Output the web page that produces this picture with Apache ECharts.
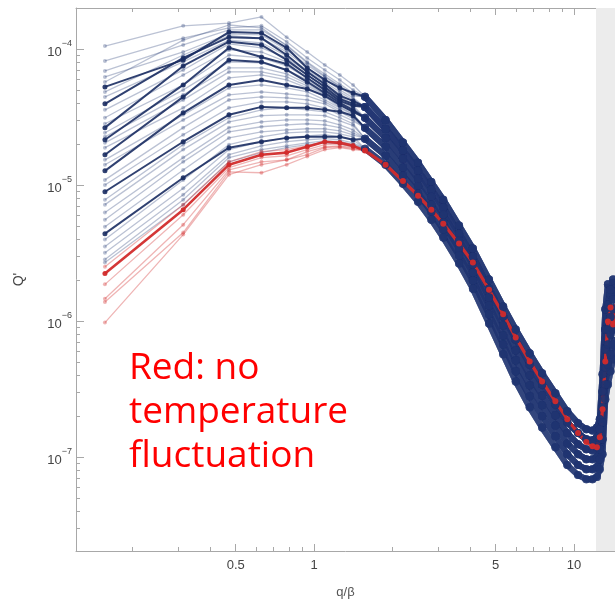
<!DOCTYPE html>
<html><head><meta charset="utf-8">
<script src="https://cdn.jsdelivr.net/npm/echarts@6/dist/echarts.min.js"></script>
<style>html,body{margin:0;padding:0;background:#fff}#c{width:615px;height:604px}</style>
</head><body><div id="c"></div>
<script>
// ---- axes ----
const xMin = 0.1215, xMax = 14.38;
const yMin = 2.04e-8, yMax = 2.0e-4;
const shadeFrom = 12.15;
const xLabelTicks = [0.5, 1, 5, 10];
const xMinorTicks = [0.2, 0.3, 0.4, 0.6, 0.7, 0.8, 0.9, 2, 3, 4, 6, 7, 8, 9];
const yLabelTicks = [1e-7, 1e-6, 1e-5, 1e-4];
const yMinorTicks = [3e-8, 4e-8, 5e-8, 6e-8, 7e-8, 8e-8, 9e-8,
  2e-7, 3e-7, 4e-7, 5e-7, 6e-7, 7e-7, 8e-7, 9e-7,
  2e-6, 3e-6, 4e-6, 5e-6, 6e-6, 7e-6, 8e-6, 9e-6,
  2e-5, 3e-5, 4e-5, 5e-5, 6e-5, 7e-5, 8e-5, 9e-5];

// ---- q/beta sample positions ----
const qEarly = [0.157, 0.314, 0.471, 0.628, 0.785, 0.942, 1.100, 1.257, 1.414];
const qTail = [1.571, 1.885, 2.199, 2.513, 2.827, 3.142, 3.613, 4.084, 4.712, 5.341, 5.969, 6.754, 7.540,
  8.482, 9.425, 10.367, 11.153, 11.781, 12.252, 12.566, 12.881, 13.195, 13.509, 13.823, 14.137, 14.451];

// ---- tail bundles (q >= 1.57) ----
const tailP0 = [4.45e-5, 3.01e-5, 2.05e-5, 1.46e-5, 1.05e-5, 7.80e-6, 5.03e-6, 3.41e-6, 2.02e-6, 1.28e-6, 8.68e-7, 5.79e-7, 4.13e-7, 2.94e-7, 2.17e-7, 1.77e-7, 1.60e-7, 1.57e-7, 1.65e-7, 1.90e-7, 4.06e-7, 1.22e-6, 1.86e-6, 1.57e-6, 2.02e-6, 1.70e-6];
const tailP1 = [3.75e-5, 2.58e-5, 1.79e-5, 1.27e-5, 9.23e-6, 6.82e-6, 4.39e-6, 2.98e-6, 1.73e-6, 1.08e-6, 7.33e-7, 4.80e-7, 3.42e-7, 2.44e-7, 1.80e-7, 1.50e-7, 1.35e-7, 1.33e-7, 1.40e-7, 1.60e-7, 3.04e-7, 8.68e-7, 1.32e-6, 1.70e-6, 1.44e-6, 1.86e-6];
const tailP2 = [3.12e-5, 2.22e-5, 1.56e-5, 1.11e-5, 8.21e-6, 6.05e-6, 3.90e-6, 2.60e-6, 1.49e-6, 9.28e-7, 6.09e-7, 3.99e-7, 2.84e-7, 2.03e-7, 1.50e-7, 1.24e-7, 1.14e-7, 1.12e-7, 1.18e-7, 1.35e-7, 2.32e-7, 6.19e-7, 8.68e-7, 1.07e-6, 1.22e-6, 1.32e-6];
const tailP3 = [2.63e-5, 1.91e-5, 1.34e-5, 9.85e-6, 7.17e-6, 5.29e-6, 3.41e-6, 2.27e-6, 1.30e-6, 7.84e-7, 5.14e-7, 3.37e-7, 2.40e-7, 1.71e-7, 1.26e-7, 1.05e-7, 9.65e-8, 9.65e-8, 9.98e-8, 1.14e-7, 1.80e-7, 4.56e-7, 6.73e-7, 7.97e-7, 8.68e-7, 1.03e-6];
const tailP4 = [2.19e-5, 1.64e-5, 1.17e-5, 8.63e-6, 6.37e-6, 4.70e-6, 3.03e-6, 1.99e-6, 1.12e-6, 6.73e-7, 4.27e-7, 2.80e-7, 2.00e-7, 1.42e-7, 1.05e-7, 8.73e-8, 8.15e-8, 8.15e-8, 8.44e-8, 9.65e-8, 1.35e-7, 3.42e-7, 4.80e-7, 5.69e-7, 6.73e-7, 7.58e-7];
const tailP5 = [1.85e-5, 1.41e-5, 1.02e-5, 7.54e-6, 5.56e-6, 4.11e-6, 2.65e-6, 1.73e-6, 9.61e-7, 5.69e-7, 3.60e-7, 2.32e-7, 1.65e-7, 1.18e-7, 8.73e-8, 7.37e-8, 6.88e-8, 6.88e-8, 7.13e-8, 8.15e-8, 1.05e-7, 2.66e-7, 3.42e-7, 4.27e-7, 5.23e-7, 6.19e-7];
const tailRed = [1.79e-5, 1.41e-5, 1.07e-5, 8.35e-6, 6.59e-6, 5.20e-6, 3.71e-6, 2.69e-6, 1.70e-6, 1.12e-6, 7.58e-7, 5.05e-7, 3.60e-7, 2.57e-7, 1.90e-7, 1.50e-7, 1.29e-7, 1.20e-7, 1.18e-7, 1.40e-7, 2.25e-7, 5.05e-7, 9.93e-7, 1.26e-6, 9.44e-7, 1.32e-6];
const blueTails = [tailP0, tailP1, tailP2, tailP3, tailP4, tailP5];

// ---- early parts (q = 0.157 ... 1.414) ----
const faintBlue = [
  [1.05e-4, 1.48e-4, 1.55e-4, 1.72e-4, 1.22e-4, 9.50e-5, 7.63e-5, 6.44e-5, 5.44e-5],
  [8.17e-5, 1.20e-4, 1.43e-4, 1.48e-4, 1.13e-4, 8.59e-5, 7.01e-5, 5.92e-5, 5.00e-5],
  [6.89e-5, 1.07e-4, 1.38e-4, 1.38e-4, 1.07e-4, 8.03e-5, 6.55e-5, 5.53e-5, 4.75e-5],
  [6.23e-5, 9.50e-5, 1.29e-4, 1.27e-4, 9.83e-5, 7.63e-5, 6.23e-5, 5.26e-5, 4.52e-5],
  [5.72e-5, 1.16e-4, 1.50e-4, 1.43e-4, 1.05e-4, 7.90e-5, 6.33e-5, 5.35e-5, 4.60e-5],
  [4.83e-5, 9.03e-5, 1.25e-4, 1.20e-4, 9.50e-5, 7.25e-5, 6.02e-5, 5.00e-5, 4.37e-5],
  [4.44e-5, 8.03e-5, 1.16e-4, 1.11e-4, 8.88e-5, 7.01e-5, 5.72e-5, 4.83e-5, 4.22e-5],
  [3.57e-5, 7.01e-5, 1.09e-4, 1.02e-4, 8.59e-5, 6.78e-5, 5.53e-5, 4.67e-5, 4.08e-5],
  [3.12e-5, 6.44e-5, 9.83e-5, 9.50e-5, 8.03e-5, 6.44e-5, 5.35e-5, 4.44e-5, 3.95e-5],
  [2.82e-5, 5.44e-5, 9.03e-5, 8.59e-5, 7.50e-5, 6.12e-5, 5.08e-5, 4.30e-5, 3.82e-5],
  [2.42e-5, 5.00e-5, 8.03e-5, 7.90e-5, 7.01e-5, 5.92e-5, 4.92e-5, 4.15e-5, 3.69e-5],
  [2.26e-5, 4.60e-5, 7.25e-5, 7.25e-5, 6.55e-5, 5.53e-5, 4.67e-5, 3.95e-5, 3.51e-5],
  [2.04e-5, 4.22e-5, 6.78e-5, 6.78e-5, 6.23e-5, 5.35e-5, 4.60e-5, 3.88e-5, 3.45e-5],
  [1.88e-5, 3.69e-5, 6.12e-5, 6.44e-5, 5.92e-5, 5.17e-5, 4.44e-5, 3.75e-5, 3.34e-5],
  [1.53e-5, 3.28e-5, 5.17e-5, 5.44e-5, 5.17e-5, 4.83e-5, 4.22e-5, 3.69e-5, 3.28e-5],
  [1.41e-5, 3.01e-5, 4.60e-5, 4.83e-5, 4.67e-5, 4.52e-5, 4.08e-5, 3.57e-5, 3.17e-5],
  [1.09e-5, 2.64e-5, 4.22e-5, 4.44e-5, 4.37e-5, 4.22e-5, 3.95e-5, 3.45e-5, 3.07e-5],
  [1.00e-5, 2.34e-5, 3.69e-5, 4.08e-5, 4.08e-5, 3.95e-5, 3.69e-5, 3.28e-5, 2.96e-5],
  [7.80e-6, 1.98e-5, 3.12e-5, 3.57e-5, 3.69e-5, 3.57e-5, 3.45e-5, 3.12e-5, 2.82e-5],
  [7.17e-6, 1.82e-5, 2.91e-5, 3.23e-5, 3.28e-5, 3.28e-5, 3.23e-5, 2.96e-5, 2.73e-5],
  [6.28e-6, 1.59e-5, 2.64e-5, 2.91e-5, 3.01e-5, 3.01e-5, 2.96e-5, 2.77e-5, 2.54e-5],
  [5.56e-6, 1.48e-5, 2.46e-5, 2.68e-5, 2.77e-5, 2.82e-5, 2.77e-5, 2.64e-5, 2.42e-5],
  [4.94e-6, 1.29e-5, 2.22e-5, 2.46e-5, 2.54e-5, 2.59e-5, 2.59e-5, 2.50e-5, 2.34e-5],
  [3.97e-6, 1.09e-5, 1.98e-5, 2.26e-5, 2.42e-5, 2.46e-5, 2.46e-5, 2.38e-5, 2.26e-5],
  [3.53e-6, 9.48e-6, 1.82e-5, 2.08e-5, 2.22e-5, 2.30e-5, 2.34e-5, 2.26e-5, 2.15e-5],
  [3.18e-6, 8.49e-6, 1.67e-5, 1.94e-5, 2.08e-5, 2.15e-5, 2.19e-5, 2.15e-5, 2.04e-5],
  [2.83e-6, 7.80e-6, 1.59e-5, 1.82e-5, 1.94e-5, 2.04e-5, 2.11e-5, 2.08e-5, 1.98e-5],
  [2.69e-6, 7.17e-6, 1.48e-5, 1.73e-5, 1.88e-5, 1.98e-5, 2.04e-5, 2.01e-5, 1.91e-5]
];
const faintBlueTail = [0,0,0,0,0, 1,1,1,1, 2,2,2,2, 3,3,3,3,3, 4,4,4,4,4, 5,5,5,5,5];

const boldBlue = [
  [5.26e-5, 8.31e-5, 1.33e-4, 1.31e-4, 1.02e-4, 7.25e-5, 5.92e-5, 5.17e-5, 4.75e-5],
  [3.95e-5, 8.59e-5, 1.22e-4, 1.20e-4, 9.03e-5, 6.78e-5, 5.53e-5, 4.52e-5, 4.15e-5],
  [2.64e-5, 7.50e-5, 1.13e-4, 1.07e-4, 8.31e-5, 6.44e-5, 5.26e-5, 4.30e-5, 3.95e-5],
  [2.15e-5, 5.44e-5, 1.02e-4, 8.73e-5, 7.76e-5, 6.12e-5, 5.00e-5, 4.15e-5, 3.82e-5],
  [1.67e-5, 4.44e-5, 8.31e-5, 8.03e-5, 7.01e-5, 5.72e-5, 4.75e-5, 4.02e-5, 3.57e-5],
  [1.27e-5, 3.39e-5, 5.44e-5, 5.92e-5, 5.44e-5, 5.08e-5, 4.52e-5, 3.88e-5, 3.45e-5],
  [8.92e-6, 2.08e-5, 3.28e-5, 3.75e-5, 3.69e-5, 3.69e-5, 3.57e-5, 3.45e-5, 3.23e-5],
  [4.39e-6, 1.13e-5, 1.88e-5, 2.08e-5, 2.22e-5, 2.26e-5, 2.26e-5, 2.26e-5, 2.15e-5]
];
const boldBlueTail = [0, 1, 1, 1, 2, 2, 3, 4];

const faintRed = [
  [2.51e-6, 7.17e-6, 1.48e-5, 1.76e-5, 1.82e-5, 1.94e-5, 2.08e-5, 2.08e-5, 1.98e-5],
  [1.86e-6, 6.05e-6, 1.34e-5, 1.59e-5, 1.64e-5, 1.82e-5, 1.98e-5, 2.01e-5, 1.91e-5],
  [1.46e-6, 5.11e-6, 1.29e-5, 1.48e-5, 1.53e-5, 1.76e-5, 1.91e-5, 1.94e-5, 1.88e-5],
  [1.38e-6, 4.47e-6, 1.25e-5, 1.23e-5, 1.41e-5, 1.62e-5, 1.82e-5, 1.88e-5, 1.82e-5],
  [9.74e-7, 4.32e-6, 1.19e-5, 1.41e-5, 1.53e-5, 1.67e-5, 1.88e-5, 1.91e-5, 1.85e-5]
];
const boldRed = [2.24e-6, 6.59e-6, 1.41e-5, 1.67e-5, 1.73e-5, 1.91e-5, 2.08e-5, 2.04e-5, 1.94e-5];

// ---- build ----
const SPLIT = 0; // tail index where the dense bundle starts
function headPts(early, tail) {
  const d = early.map((v, i) => [qEarly[i], v]);
  for (let i = 0; i <= SPLIT; i++) d.push([qTail[i], tail[i]]);
  return d;
}
function bundlePts(tail) {
  const d = [];
  for (let i = SPLIT; i < tail.length; i++) d.push([qTail[i], tail[i]]);
  return d;
}
function lineSeries(data, color, width, op, sym) {
  return {
    type: 'line', data: data, xAxisIndex: 0, yAxisIndex: 0, silent: true, animation: false,
    symbol: 'circle', showSymbol: true, showAllSymbol: true, symbolSize: sym,
    lineStyle: { color: color, width: width, opacity: op },
    itemStyle: { color: color, opacity: op },
    emphasis: { disabled: true }
  };
}
const series = [];
series.push({
  type: 'line', data: [], xAxisIndex: 0, yAxisIndex: 0, silent: true, z: 1,
  markArea: { silent: true, itemStyle: { color: '#ececec' }, data: [[{ xAxis: shadeFrom }, { xAxis: xMax }]] }
});
const NAVY = '#1f3472', NAVY_D = '#1a2c62', RED = '#d22b2b';
faintBlue.forEach((e, i) => {
  const t = blueTails[faintBlueTail[i]];
  series.push(lineSeries(headPts(e, t), NAVY, 1.3, 0.3, 4));
  series.push(lineSeries(bundlePts(t), NAVY, 6, 0.38, 8));
});
faintRed.forEach((e) => {
  series.push(lineSeries(headPts(e, tailRed), RED, 1.3, 0.35, 4));
});
boldBlue.forEach((e, i) => {
  const t = blueTails[boldBlueTail[i]];
  series.push(lineSeries(headPts(e, t), NAVY_D, 2, 0.9, 5));
  series.push(lineSeries(bundlePts(t), NAVY, 6, 0.5, 8));
});
series.push(lineSeries(headPts(boldRed, tailRed), RED, 2.6, 0.95, 5));
series.push(lineSeries(bundlePts(tailRed), RED, 3.2, 0.95, 6));

const AX = '#a8a8a8';
const FONT = 'Liberation Sans';
function logX(extra) {
  return Object.assign({ type: 'log', logBase: 10, min: xMin, max: xMax, splitLine: { show: false }, minorTick: { show: false } }, extra);
}
function logY(extra) {
  return Object.assign({ type: 'log', logBase: 10, min: yMin, max: yMax, splitLine: { show: false }, minorTick: { show: false } }, extra);
}
const option = {
  animation: false,
  backgroundColor: '#ffffff',
  grid: { left: 76, right: 0, top: 8, bottom: 52, containLabel: false },
  xAxis: [
    logX({ position: 'bottom', name: 'q/β', nameLocation: 'middle', nameGap: 35,
      nameTextStyle: { color: '#555', fontSize: 13, fontFamily: FONT },
      axisLine: { show: true, lineStyle: { color: AX } },
      axisTick: { show: true, inside: true, length: 7, customValues: xLabelTicks, lineStyle: { color: AX } },
      axisLabel: { show: true, customValues: xLabelTicks, color: '#444', fontSize: 13, fontFamily: FONT, margin: 8, formatter: (v) => String(+v.toPrecision(3)) } }),
    logX({ position: 'bottom', axisLine: { show: false },
      axisTick: { show: true, inside: true, length: 4, customValues: xMinorTicks, lineStyle: { color: AX } },
      axisLabel: { show: false } }),
    logX({ position: 'top', axisLine: { show: true, lineStyle: { color: AX } },
      axisTick: { show: true, inside: true, length: 7, customValues: xLabelTicks, lineStyle: { color: AX } },
      axisLabel: { show: false } }),
    logX({ position: 'top', axisLine: { show: false },
      axisTick: { show: true, inside: true, length: 4, customValues: xMinorTicks, lineStyle: { color: AX } },
      axisLabel: { show: false } })
  ],
  yAxis: [
    logY({ position: 'left', name: "Q'", nameLocation: 'middle', nameGap: 50, nameRotate: 90,
      nameTextStyle: { color: '#444', fontSize: 14, fontFamily: FONT },
      axisLine: { show: true, lineStyle: { color: AX } },
      axisTick: { show: true, inside: true, length: 8, customValues: yLabelTicks, lineStyle: { color: AX } },
      axisLabel: { show: true, customValues: yLabelTicks, margin: 4,
        formatter: (v) => '{b|10}{s|\u2212' + Math.round(-Math.log10(v)) + '}',
        rich: {
          b: { fontSize: 13, fontFamily: FONT, color: '#444', lineHeight: 20, verticalAlign: 'bottom' },
          s: { fontSize: 9, fontFamily: FONT, color: '#444', lineHeight: 10, verticalAlign: 'top' }
        } } }),
    logY({ position: 'left', axisLine: { show: false },
      axisTick: { show: true, inside: true, length: 4, customValues: yMinorTicks, lineStyle: { color: AX } },
      axisLabel: { show: false } })
  ],
  graphic: [{
    type: 'text', left: 129, top: 346, z: 100,
    style: { text: 'Red: no\ntemperature\nfluctuation', fill: '#ff0000', fontSize: 37, fontFamily: 'Open Sans', lineHeight: 44 }
  }],
  series: series
};
const chart = echarts.init(document.getElementById('c'), null, { renderer: 'canvas', width: 615, height: 604 });
chart.setOption(option);
</script>
</body></html>
